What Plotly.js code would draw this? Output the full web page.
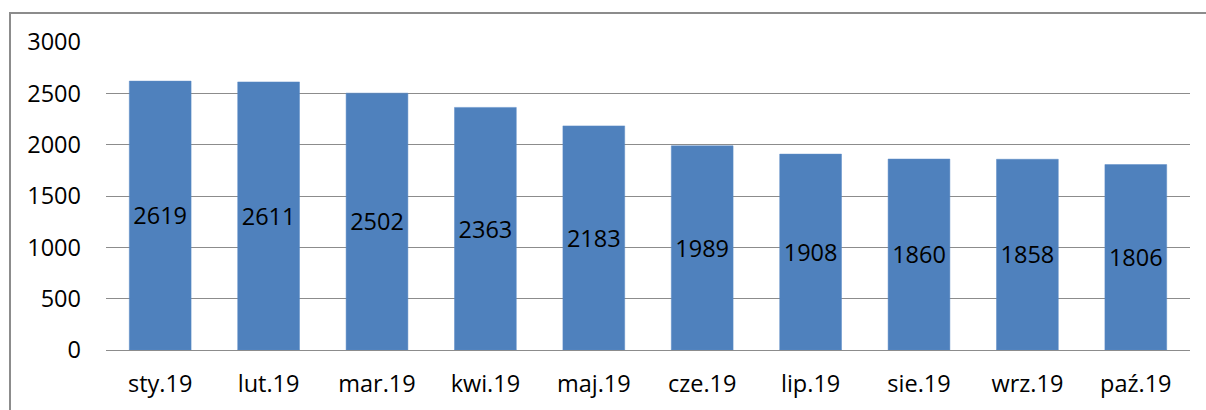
<!DOCTYPE html>
<html>
<head>
<meta charset="utf-8">
<script src="https://cdn.plot.ly/plotly-3.0.1.min.js"></script>
<style>
html,body{margin:0;padding:0;background:#fff;overflow:hidden;width:1206px;height:410px;}
#frame{position:absolute;left:9px;top:12px;width:1240px;height:440px;border:2px solid #8c8c8c;box-sizing:border-box;}
#chart{position:absolute;left:0;top:0;width:1206px;height:410px;}
</style>
</head>
<body>
<div id="frame"></div>
<div id="chart"></div>
<script>
const categories = ["sty.19","lut.19","mar.19","kwi.19","maj.19","cze.19","lip.19","sie.19","wrz.19","paź.19"];
const values = [2619,2611,2502,2363,2183,1989,1908,1860,1858,1806];
const yTicks = [0,500,1000,1500,2000,2500,3000];

const font = {family:"Open Sans, Noto Sans, sans-serif", size:23.5, color:"#000"};

const bars = {
  type:"bar", x:categories, y:values,
  marker:{color:"#4F81BD", line:{color:"#5a8ac6", width:0.5}},
  width:0.57, hoverinfo:"skip"
};
const labels = {
  type:"scatter", mode:"text", x:categories, y:values.map(v=>v/2),
  text:values.map(String), textposition:"middle center",
  textfont:font, hoverinfo:"skip", cliponaxis:false
};

const layout = {
  width:1206, height:410,
  margin:{l:106, r:16, t:42, b:60},
  paper_bgcolor:"rgba(0,0,0,0)", plot_bgcolor:"rgba(0,0,0,0)",
  showlegend:false,
  font:font,
  xaxis:{type:"category", showgrid:false, showline:true, linecolor:"#8c8c8c", linewidth:1,
         ticks:"", tickfont:font, ticklabelstandoff:13, fixedrange:true},
  yaxis:{range:[0,3000], tickvals:yTicks, ticktext:yTicks.map(String), showgrid:true, gridcolor:"#8c8c8c", gridwidth:1,
         zeroline:false, showline:false, ticks:"", tickfont:font, ticklabelstandoff:24, fixedrange:true}
};

Plotly.newPlot("chart",[bars,labels],layout,{displayModeBar:false, staticPlot:true}).then(function(){
  // shift inside labels down slightly to match reference baseline placement
  document.querySelectorAll('.textpoint text').forEach(function(t){
    t.setAttribute('transform','translate(0,3)');
  });
});
</script>
</body>
</html>
